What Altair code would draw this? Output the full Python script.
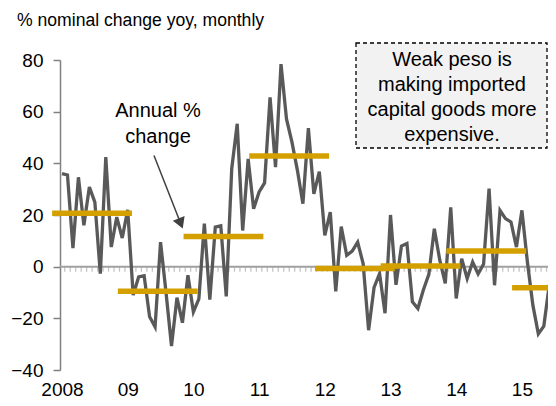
import altair as alt
import pandas as pd

# ---- data ----
years = [2008, 2009, 2010, 2011, 2012, 2013, 2014, 2015]
m2008 = [36, 35.5, 7.2, 34.6, 16, 30.8, 25, -2.7, 42.4, 7.6, 19.2, 11.1]
m2009 = [22, -11, -4, -3.5, -19.4, -23.3, 9.5, -10, -30.7, -12, -21.7, -3.3]
m2010 = [-17.5, -12.5, 16.7, -12.8, 15.3, 15.8, -11.5, 37.9, 55.3, 14, 41.7, 22.4]
m2011 = [28.9, 32.4, 65.5, 38.5, 78.4, 57.2, 48.2, 37.2, 24.4, 53.6, 28.2, 36.8]
m2012 = [12.1, 21.1, -9.6, 15.5, 4.4, 6, 9.5, 1.2, -24.6, -8, -2.7, -18]
m2013 = [20, -7, 8, 9, -13.6, -16.2, -9, -3, 14.7, 2.5, -6.5, 23]
m2014 = [-12.3, 3.1, -4.6, 1.8, -2.8, 1, 30.2, -7.2, 21.8, 18.6, 17.3, 7.6]
m2015 = [21.8, 1.8, -14.9, -26, -23, -7, -21]
monthly = [m2008, m2009, m2010, m2011, m2012, m2013, m2014, m2015]
annual = [20.7, -9.5, 11.7, 42.8, -0.7, 0.3, 6.1, -8.2]
tick_labels = ["2008", "09", "10", "11", "12", "13", "14", "15"]

# ---- tables ----
rows = []
for y, vals in zip(years, monthly):
    for i, v in enumerate(vals):
        rows.append({"t": y + i / 12, "v": v})
line_df = pd.DataFrame(rows)

seg_df = pd.DataFrame({"year": years, "v": annual})
seg_df["x1"] = seg_df["year"] - 0.15
seg_df["x2"] = seg_df["year"] + 1.065

tick_df = pd.DataFrame({"t": [2008 + (i + 0.5) / 12 for i in range(0, 89)]})

arrow_df = pd.DataFrame({"x": [2009.40], "y": [43.0], "x2": [2009.807], "y2": [16.7]})

one = pd.DataFrame({"k": [0]})

FONT = "Liberation Sans"
W, H = 488, 310

xscale = alt.Scale(domain=[2007.9696, 2015.397], nice=False, zero=False)
yscale = alt.Scale(domain=[-40, 80], nice=False, zero=False)

label_arr = "[" + ",".join("'%s'" % s for s in tick_labels) + "]"
xaxis = alt.Axis(values=years, labelExpr=label_arr + "[datum.value - 2008]",
                 domain=False, ticks=False, grid=False, labelPadding=10,
                 labelFontSize=19, labelFont=FONT, labelColor="black", title=None)
yaxis = alt.Axis(values=[-40, -20, 0, 20, 40, 60, 80], domainColor="#808080",
                 domainWidth=1.5, tickColor="#808080", tickWidth=1.5, tickSize=7,
                 grid=False, labelPadding=10, labelFontSize=19, labelFont=FONT,
                 labelColor="black", title=None)

X = lambda f: alt.X(f, type="quantitative", scale=xscale, axis=xaxis)
Y = lambda f: alt.Y(f, type="quantitative", scale=yscale, axis=yaxis)

zero_line = alt.Chart(one).mark_rule(color="#a0a0a0", strokeWidth=2).encode(
    x=alt.value(0), x2=alt.value(W), y=alt.datum(0, scale=yscale, axis=yaxis))

ticks = alt.Chart(tick_df).mark_tick(orient="vertical", size=5, thickness=1.2,
                                     color="#a6a6a6", yOffset=2.5).encode(
    x=X("t"), y=alt.datum(0, scale=yscale, axis=yaxis))

line = alt.Chart(line_df).mark_line(color="#595959", strokeWidth=3.3).encode(
    x=X("t"), y=Y("v"))

segs = alt.Chart(seg_df).mark_rule(color="#D4A000", strokeWidth=5.5).encode(
    x=X("x1"), x2="x2", y=Y("v"))

box = alt.Chart(one).mark_rect(fill="#f2f2f2", stroke="black", strokeDash=[4, 3],
                               strokeWidth=1.3).encode(
    x=alt.value(296), x2=alt.value(487), y=alt.value(-17), y2=alt.value(88))

box_text = alt.Chart(one).mark_text(font=FONT, fontSize=20, color="black",
                                    align="center", baseline="middle",
                                    lineBreak="\n", lineHeight=25).encode(
    x=alt.value(392), y=alt.value(0),
    text=alt.value("Weak peso is\nmaking imported\ncapital goods more\nexpensive."))

ann_text = alt.Chart(one).mark_text(font=FONT, fontSize=20, color="black",
                                    align="center", baseline="middle",
                                    lineBreak="\n", lineHeight=26).encode(
    x=alt.value(98), y=alt.value(50.7), text=alt.value("Annual %\nchange"))

subtitle = alt.Chart(one).mark_text(font=FONT, fontSize=17.6, color="black",
                                    align="left", baseline="middle").encode(
    x=alt.value(-43), y=alt.value(-39), text=alt.value("% nominal change yoy, monthly"))

arrow_line = alt.Chart(arrow_df).mark_rule(color="#404040", strokeWidth=1.5).encode(
    x=X("x"), y=Y("y"), x2="x2", y2="y2")

arrow_head = alt.Chart(arrow_df).mark_point(shape="triangle-up", size=160, filled=True,
                                            color="#404040", opacity=1, angle=158.6).encode(
    x=X("x2"), y=Y("y2"))

chart = alt.layer(zero_line, ticks, line, segs, box, box_text, ann_text, subtitle,
                  arrow_line, arrow_head).properties(
    width=W, height=H,
    padding={"left": 52, "top": 52, "right": 0, "bottom": 28},
    autosize=alt.AutoSizeParams(type="none"),
).configure_view(stroke=None)

chart.save("out.html", embed_options={"renderer": "svg", "actions": False})
